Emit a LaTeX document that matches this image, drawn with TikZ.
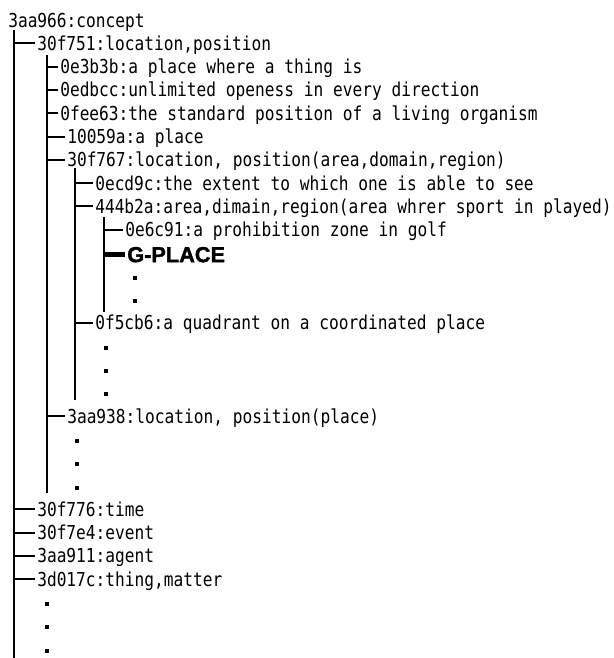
\documentclass[tikz,border=0pt]{standalone}
\usepackage{fontspec}
\setmonofont{DejaVu Sans Mono}[FakeStretch=0.843]
\newfontfamily\gfont{Liberation Sans}[BoldFeatures={FakeBold=1.6}]
\tikzset{
  lbl/.style={anchor=west, inner sep=0pt, font=\ttfamily\fontsize{14.4pt}{16pt}\selectfont, text height=10.5pt, text depth=0pt},
  gbl/.style={anchor=west, inner sep=0pt, font=\gfont\bfseries\fontsize{16.3pt}{18pt}\selectfont, text height=11.5pt, text depth=0pt},
  spine/.style={line width=1.95pt},
  hconn/.style={line width=1.5pt, shorten >=1.7pt},
  hbold/.style={line width=3.75pt, shorten >=1.5pt},
  dotsq/.style={rectangle, fill=black, inner sep=0pt, minimum size=3pt}
}
\begin{document}
\begin{tikzpicture}[x=0.75pt,y=-0.75pt]
\useasboundingbox (0,0) rectangle (614,658);
% text nodes
\node[lbl] (n0)  at (8,{20+23.3*0})  {3aa966:concept};
\node[lbl] (n1)  at (37,{20+23.3*1}) {30f751:location,position};
\node[lbl] (n2)  at (60,{20+23.3*2}) {0e3b3b:a place where a thing is};
\node[lbl] (n3)  at (60,{20+23.3*3}) {0edbcc:unlimited openess in every direction};
\node[lbl] (n4)  at (60,{20+23.3*4}) {0fee63:the standard position of a living organism};
\node[lbl] (n5)  at (67,{20+23.3*5}) {10059a:a place};
\node[lbl] (n6)  at (67,{20+23.3*6}) {30f767:location, position(area,domain,region)};
\node[lbl] (n7)  at (95,{20+23.3*7}) {0ecd9c:the extent to which one is able to see};
\node[lbl] (n8)  at (95,{20+23.3*8}) {444b2a:area,dimain,region(area whrer sport in played)};
\node[lbl] (n9)  at (125,{20+23.3*9}) {0e6c91:a prohibition zone in golf};
\node[gbl] (n10) at (127,{21.5+23.3*10}) {G-PLACE};
\node[lbl] (n13) at (95,{20+23.3*13}) {0f5cb6:a quadrant on a coordinated place};
\node[lbl] (n17) at (67,{20+23.3*17}) {3aa938:location, position(place)};
\node[lbl] (n21) at (37,{20+23.3*21}) {30f776:time};
\node[lbl] (n22) at (37,{20+23.3*22}) {30f7e4:event};
\node[lbl] (n23) at (37,{20+23.3*23}) {3aa911:agent};
\node[lbl] (n24) at (37,{20+23.3*24}) {3d017c:thing,matter};
% dots
\node[dotsq] (d11) at (135,{21.5+23.3*11}) {};
\node[dotsq] (d12) at (135,{21.5+23.3*12}) {};
\node[dotsq] (d14) at (106,{21.5+23.3*14}) {};
\node[dotsq] (d15) at (106,{21.5+23.3*15}) {};
\node[dotsq] (d16) at (106,{21.5+23.3*16}) {};
\node[dotsq] (d18) at (77,{21.5+23.3*18}) {};
\node[dotsq] (d19) at (77,{21.5+23.3*19}) {};
\node[dotsq] (d20) at (77,{21.5+23.3*20}) {};
\node[dotsq] (d25) at (47,{21.5+23.3*25}) {};
\node[dotsq] (d26) at (47,{21.5+23.3*26}) {};
\node[dotsq] (d27) at (47,{21.5+23.3*27}) {};
% spines
\coordinate (s1t) at (14,30);  \coordinate (s1b) at (14,658);
\coordinate (s2t) at (47,55);  \coordinate (s2b) at (47,493);
\coordinate (s3t) at (75,168); \coordinate (s3b) at (75,400);
\coordinate (s4t) at (104,217); \coordinate (s4b) at (104,312);
\draw[spine] (s1t) -- (s1b);
\draw[spine] (s2t) -- (s2b);
\draw[spine] (s3t) -- (s3b);
\draw[spine] (s4t) -- (s4b);
% connectors
\foreach \n in {n1,n21,n22,n23,n24} \draw[hconn] (s1t |- \n.west) -- (\n.west);
\foreach \n in {n2,n3,n4,n5,n6,n17} \draw[hconn] (s2t |- \n.west) -- (\n.west);
\foreach \n in {n7,n8,n13} \draw[hconn] (s3t |- \n.west) -- (\n.west);
\draw[hconn] (s4t |- n9.west) -- (n9.west);
\draw[hbold] (s4t |- n10.west) -- (n10.west);
\end{tikzpicture}
\end{document}
